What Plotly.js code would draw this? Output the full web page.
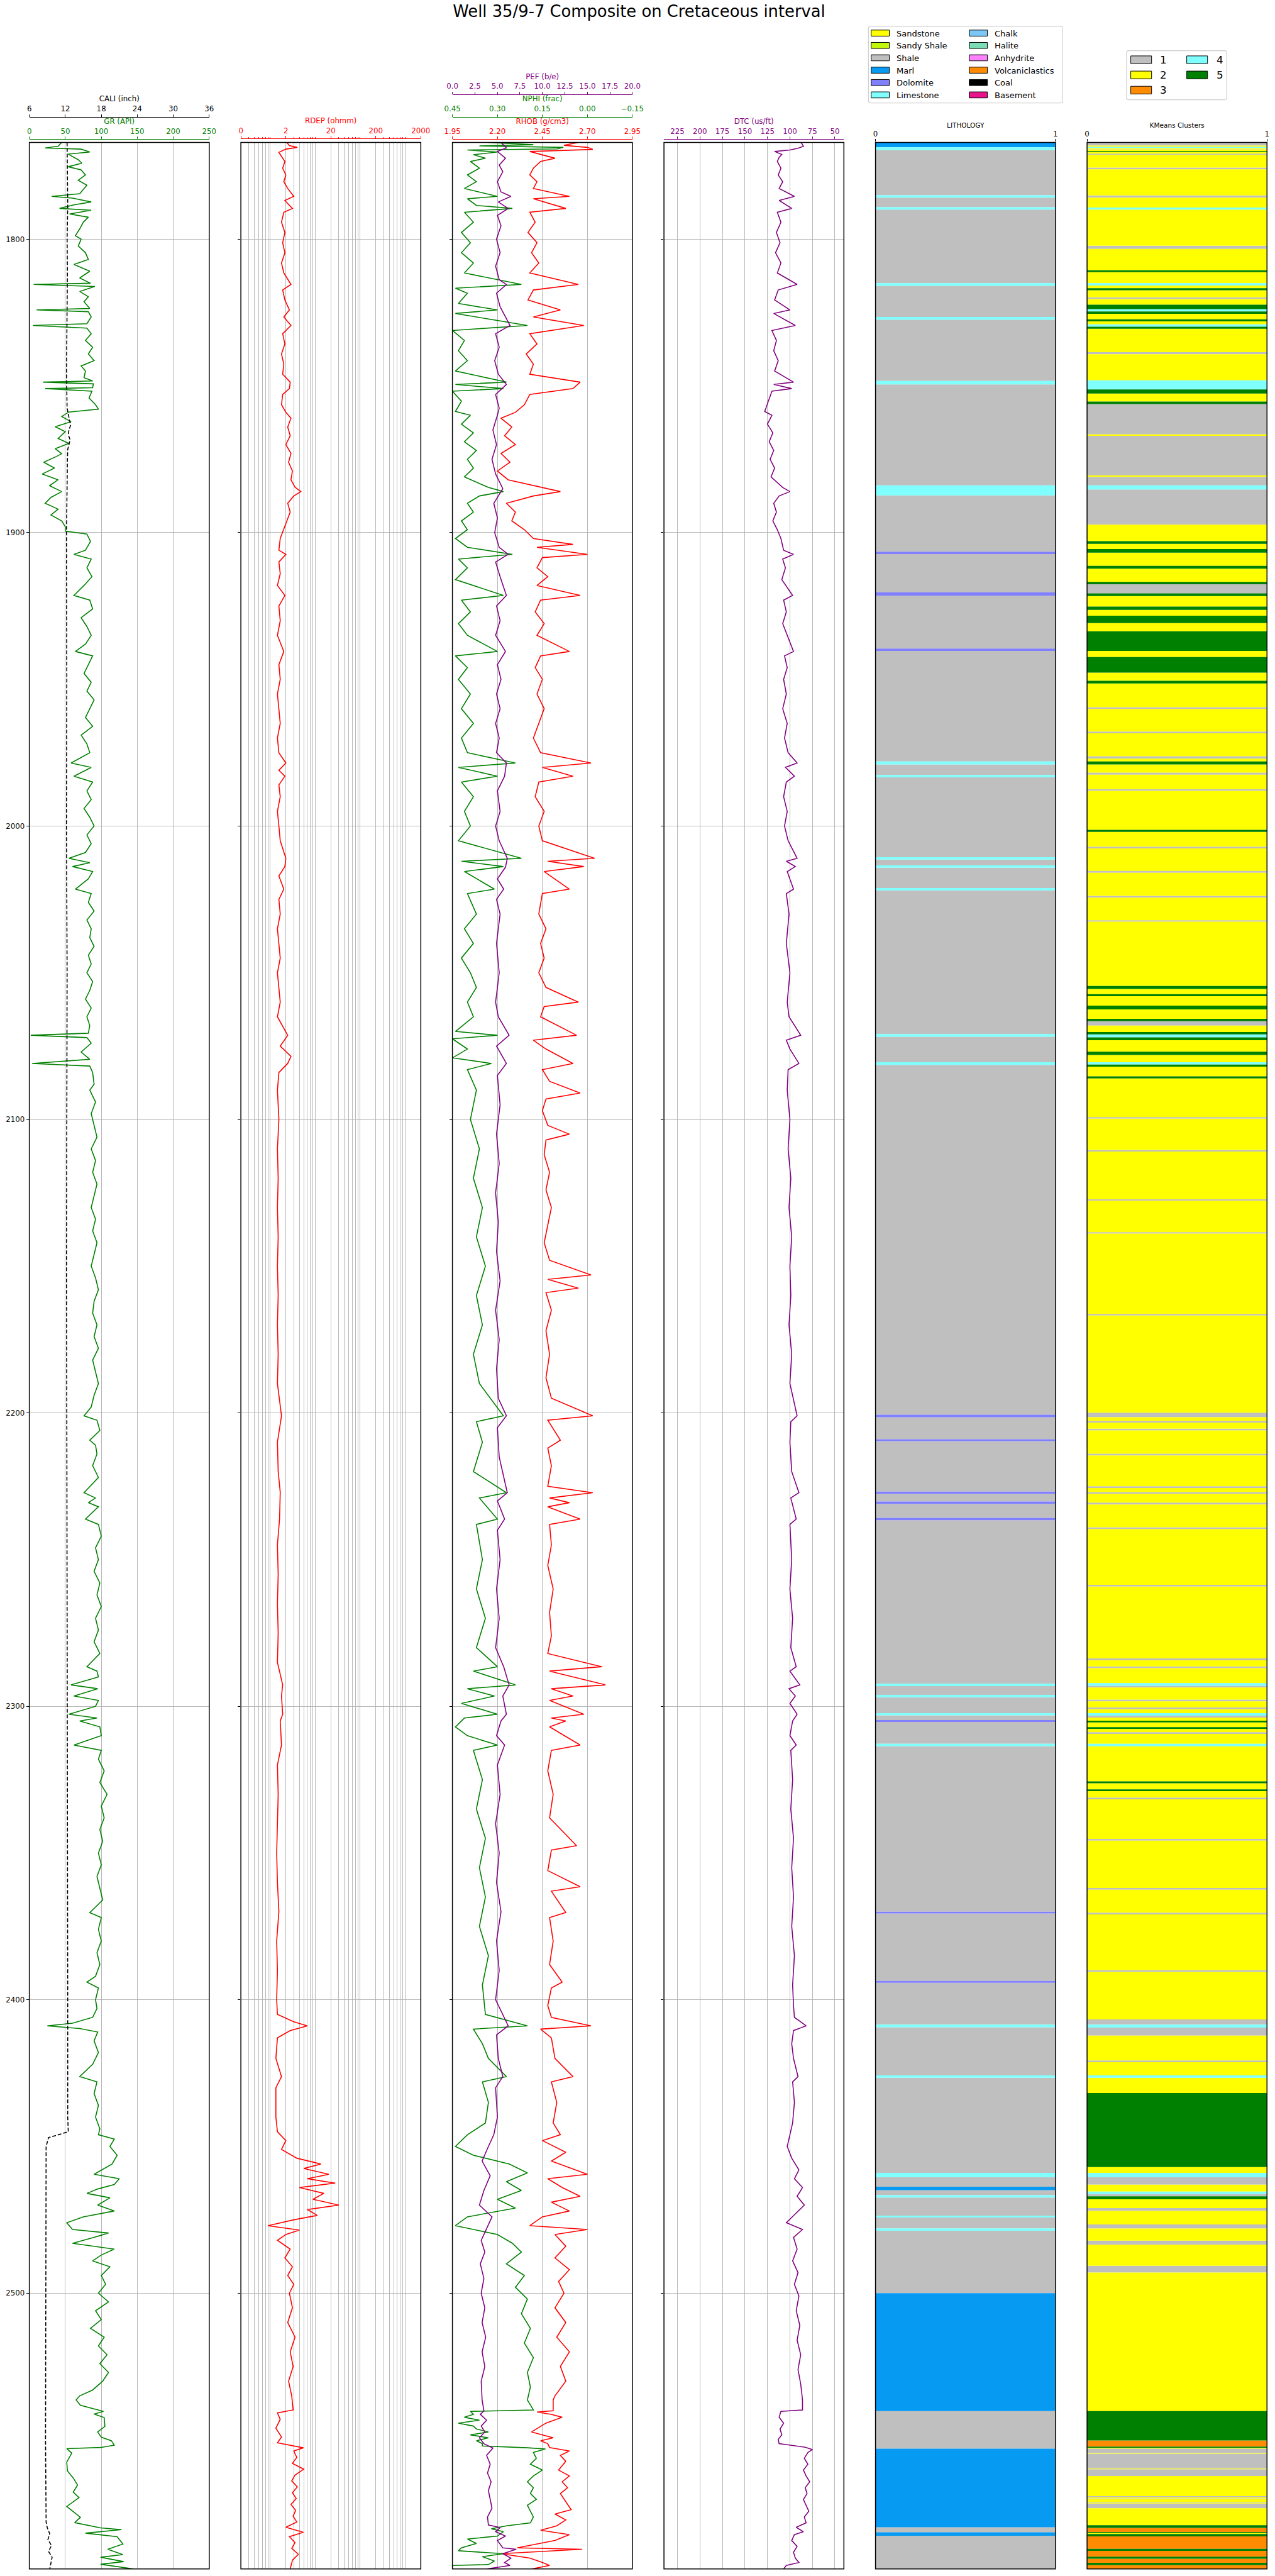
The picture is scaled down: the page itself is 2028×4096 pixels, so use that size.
<!DOCTYPE html>
<html>
<head>
<meta charset="utf-8">
<script src="https://cdn.plot.ly/plotly-3.0.1.min.js"></script>
<style>
html,body{margin:0;padding:0;background:#ffffff;}
#chart{width:2028px;height:4096px;}
</style>
</head>
<body>
<div id="chart"></div>
<script>
// ---------------- DATA ----------------
const DEPTH_TOP = 1767.0;
const DEPTH_BOTTOM = 2594.0;
const DEPTH_TICKS = [1800, 1900, 2000, 2100, 2200, 2300, 2400, 2500];

const GR_TICKS = [0, 50, 100, 150, 200, 250];
const CALI_TICKS = [6, 12, 18, 24, 30, 36];
const RDEP_TICKS = [0.2, 2, 20, 200, 2000];
const RDEP_TICKTEXT = ['0', '2', '20', '200', '2000'];
const RHOB_TICKS = [1.95, 2.20, 2.45, 2.70, 2.95];
const NPHI_TICKS = [0.45, 0.30, 0.15, 0.00, -0.15];
const PEF_TICKS = [0, 2.5, 5, 7.5, 10, 12.5, 15, 17.5, 20];
const DTC_TICKS = [225, 200, 175, 150, 125, 100, 75, 50];

// [depth (m), GR (API)]
const GR_CURVE = [
[1767.0,45],[1768.3,40],[1768.9,22],[1769.3,72],[1770.3,84],[1771.0,54],[1772.9,68],[1774.1,73],[1775.3,54],[1776.4,72],
[1778.1,78],[1779.9,68],[1781.6,80],[1783.3,74],[1784.5,70],[1785.4,31],[1786.0,60],[1787.3,86],[1788.3,62],[1789.5,42],
[1790.1,86],[1791.4,56],[1792.5,82],[1794.2,75],[1796.5,70],[1798.8,64],[1800.0,72],[1802.3,68],[1804.6,78],[1806.9,82],
[1808.6,62],[1810.9,84],[1813.2,70],[1815.0,85],[1815.4,6],[1816.1,91],[1817.8,70],[1819.6,82],[1821.3,76],[1823.6,84],
[1824.1,10],[1824.7,82],[1826.5,86],[1828.8,80],[1829.4,5],[1830.3,80],[1832.2,86],[1834.5,78],[1836.8,88],[1839.1,82],
[1841.4,90],[1843.2,72],[1844.9,78],[1847.2,76],[1848.3,88],[1848.7,19],[1849.3,89],[1850.6,88],[1850.9,22],[1851.8,87],
[1854.1,83],[1856.4,92],[1857.9,96],[1858.9,55],[1860.4,45],[1862.2,58],[1863.9,36],[1865.6,50],[1867.9,40],[1869.6,55],
[1871.4,36],[1873.1,45],[1874,38],[1876,20],[1878,35],[1880,18],[1882,40],[1884,28],[1886,45],[1888,30],
[1890,22],[1892,40],[1894,30],[1896,45],[1898,50],[1899.5,50],[1900.5,80],[1903,85],[1906,78],[1907.4,62],
[1909,86],[1912,80],[1915,87],[1918,76],[1921.4,62],[1923,84],[1926,88],[1929,72],[1932,80],[1935,86],
[1938,78],[1940.5,64],[1942,88],[1945,82],[1948,76],[1951,86],[1954,80],[1957,90],[1960,84],[1963,78],
[1966,88],[1969,72],[1972,80],[1975,84],[1978.5,58],[1980,86],[1983,62],[1985,88],[1988,80],[1991,86],
[1994,76],[1997,84],[2000,90],[2003,80],[2006,86],[2009,78],[2011,55],[2012.5,84],[2013.8,60],[2015.5,88],
[2018,82],[2021.5,64],[2023,86],[2026,82],[2029,90],[2032,80],[2035,86],[2038,84],[2041,90],[2044,82],
[2047,86],[2050,80],[2053,88],[2056,84],[2059,78],[2062,86],[2065,80],[2068,84],[2070.6,82],[2071.3,2],
[2072.1,80],[2074,86],[2077,72],[2079.5,84],[2080.9,4],[2081.8,84],[2084,88],[2088,90],[2090,84],[2094,92],
[2098,86],[2102,90],[2106,94],[2110,86],[2114,92],[2118,88],[2122,94],[2126,90],[2130,86],[2134,92],
[2138,88],[2142,94],[2146,90],[2150,86],[2154,92],[2158,96],[2162,90],[2166,88],[2170,94],[2174,90],
[2178,96],[2182,88],[2186,92],[2190,96],[2194,90],[2198,86],[2201,76],[2202.5,94],[2206,98],[2209.3,84],
[2211,92],[2214,94],[2218,88],[2222,96],[2227.2,76],[2229,92],[2230.6,82],[2232,96],[2236.2,78],[2238,96],
[2242,100],[2246,92],[2250,96],[2254,90],[2258,98],[2262,94],[2266,100],[2270,92],[2274,96],[2278,90],
[2282,98],[2286.5,80],[2288,94],[2290,96],[2292.7,58],[2294,95],[2296.5,62],[2298,96],[2300,92],[2302.7,55],
[2304,94],[2305,70],[2307,98],[2310,100],[2313.2,62],[2315,100],[2318,96],[2322,104],[2326,98],[2330,108],
[2334,100],[2338,104],[2342,98],[2346,102],[2350,96],[2354,100],[2358,94],[2362,98],[2366,102],[2370.3,84],
[2372,100],[2376,96],[2380,100],[2384,94],[2388,98],[2392,92],[2394,80],[2396,96],[2400,92],[2403,94],
[2406,88],[2408,60],[2408.9,25],[2409.8,70],[2411,95],[2414,90],[2418,96],[2422,88],[2426.2,70],[2428,94],
[2432,90],[2436,96],[2440,92],[2444,98],[2446,96],[2447.5,118],[2450,112],[2453,122],[2456,115],[2459.5,90],
[2461,125],[2463,118],[2464.5,95],[2466,80],[2467.5,112],[2470,95],[2472,118],[2474,75],[2476,52],[2478.3,60],
[2479.5,110],[2481,90],[2483,60],[2485,118],[2487,100],[2489,88],[2491,112],[2494,100],[2497,106],[2500,96],
[2503,110],[2506,92],[2509,100],[2512,85],[2515,104],[2518,96],[2521,108],[2524,98],[2527,110],[2530,102],
[2533,88],[2535,70],[2536.4,65],[2538.2,71],[2540.3,103],[2541.2,90],[2542.4,104],[2545.4,105],[2547.3,95],[2549.1,100],
[2550.3,114],[2551.8,118],[2552.6,99],[2553.0,52],[2554.5,59],[2557.6,52],[2560.6,53],[2563.0,61],[2565.4,67],[2567.8,61],
[2569.7,69],[2572.7,52],[2575.1,65],[2576.4,71],[2578.2,63],[2580.0,99],[2580.6,128],[2581.8,78],[2583.0,122],[2585.5,130],
[2587.3,109],[2589.1,130],[2590.0,99],[2591.5,131],[2592.4,99],[2594.0,145]
];

// [depth, CALI (inch)]
const CALI_CURVE = [
[1767.0,12.3],[1776.9,12.35],[1788.5,12.4],[1800,12.3],[1811.5,12.35],[1823.0,12.3],[1834.5,12.25],[1846.0,12.2],[1857.6,12.3],[1860,12.5],
[1861.7,12.7],[1863.3,12.9],[1865,12.6],[1866.7,12.5],[1868.3,12.8],[1870,12.6],[1871.7,12.4],[1875,12.35],[1883.3,12.3],[1891.7,12.3],
[1900,12.2],[1950,12.25],[2000,12.2],[2050,12.3],[2100,12.25],[2150,12.2],[2200,12.25],[2250,12.3],[2300,12.3],[2350,12.35],
[2400,12.4],[2440,12.4],[2445,12.5],[2447,9.2],[2450,8.8],[2500,8.75],[2550,8.7],[2578,8.8],[2580,9.0],[2582,9.4],
[2584,9.1],[2586,9.7],[2588,9.2],[2590,9.8],[2594.0,9.4]
];

// [depth, RDEP (ohmm)]
const RDEP_CURVE = [
[1767.0,2.1],[1768.1,2.4],[1768.7,3.6],[1769.3,2.0],[1770.4,1.4],[1771.8,1.6],[1773.5,1.9],[1775.8,1.7],[1778.1,2.0],[1780.4,1.8],
[1782.7,2.2],[1785.4,3.0],[1786.8,1.9],[1789.5,2.8],[1790.8,1.8],[1794.2,1.6],[1797.7,1.9],[1801.2,1.7],[1804.6,1.9],[1808.1,1.6],
[1811.5,1.8],[1815.4,2.6],[1817.3,1.7],[1820.7,1.9],[1824.1,2.4],[1826.5,1.8],[1829.4,2.6],[1832.2,1.7],[1835.7,1.9],[1839.1,1.6],
[1842.6,1.8],[1846.0,1.7],[1848.7,2.5],[1850.9,2.4],[1852.9,1.7],[1856.4,1.6],[1859,2.0],[1861,2.6],[1864,2.2],[1867,2.5],
[1870,2.0],[1873,2.6],[1876,2.3],[1879,2.8],[1882,2.6],[1884.5,3.2],[1886,4.3],[1887.5,3.0],[1890,2.2],[1893,2.5],
[1896,2.1],[1899,1.8],[1902,1.5],[1906,1.4],[1907.4,2.0],[1910,1.4],[1914,1.5],[1918,1.3],[1921.4,1.9],[1925,1.4],
[1930,1.5],[1935,1.3],[1940.5,1.8],[1945,1.4],[1950,1.5],[1955,1.3],[1960,1.4],[1965,1.5],[1970,1.3],[1975,1.4],
[1978.5,2.0],[1981,1.4],[1983,1.9],[1986,1.4],[1990,1.5],[1995,1.3],[2000,1.4],[2005,1.5],[2011,2.0],[2013.8,1.9],
[2017,1.4],[2021.5,1.8],[2025,1.4],[2030,1.5],[2035,1.3],[2040,1.4],[2045,1.5],[2050,1.3],[2055,1.4],[2060,1.5],
[2065,1.3],[2071.3,2.2],[2075,1.5],[2078.5,2.6],[2080.9,2.2],[2084,1.4],[2090,1.3],[2100,1.4],[2110,1.3],[2120,1.35],
[2130,1.3],[2140,1.35],[2150,1.3],[2160,1.35],[2170,1.3],[2180,1.35],[2190,1.3],[2201,1.6],[2210,1.3],[2220,1.35],
[2227,1.5],[2236,1.45],[2245,1.3],[2255,1.35],[2265,1.3],[2275,1.35],[2285,1.3],[2292.7,1.7],[2296.5,1.6],[2302.7,1.7],
[2305,1.5],[2313.2,1.6],[2320,1.3],[2330,1.35],[2340,1.3],[2350,1.25],[2360,1.3],[2370,1.4],[2380,1.25],[2390,1.3],
[2400,1.25],[2405,1.3],[2407.5,3.0],[2408.9,6.0],[2410.5,2.5],[2413,1.3],[2420,1.2],[2426.2,1.6],[2430,1.2],[2440,1.2],
[2445,1.3],[2448,2.0],[2451,1.6],[2454,3.5],[2456,12],[2457.5,5],[2459.5,18],[2461,6],[2462.5,25],[2464,4],
[2466,14],[2468,8],[2470,30],[2471.5,6],[2473.5,10],[2475,3],[2477,0.8],[2478.5,4],[2480,2],[2482,1.3],
[2485,2.5],[2488,1.9],[2491,2.8],[2494,2.2],[2497,3.0],[2500,2.4],[2505,2.8],[2510,2.2],[2515,3.2],[2520,2.5],
[2525,2.9],[2530,2.3],[2535,2.7],[2537,2.8],[2539.8,2.9],[2540.8,1.3],[2543,1.5],[2546,1.2],[2549,1.6],[2551,1.3],
[2552.7,4.9],[2553.8,3.0],[2556,3.5],[2558,2.8],[2560,5.0],[2562,3.2],[2564,2.7],[2566,3.6],[2568,2.8],[2570,3.4],
[2572,2.6],[2574,3.3],[2576,2.9],[2578,3.5],[2579.8,2.0],[2581.5,4.9],[2583,2.4],[2585,3.2],[2587,2.7],[2589,3.8],
[2591,2.8],[2594.0,2.5]
];

// [depth, RHOB (g/cm3)]
const RHOB_CURVE = [
[1767.0,2.65],[1768.0,2.57],[1768.7,2.70],[1769.4,2.73],[1770.1,2.38],[1771.2,2.45],[1772.4,2.52],[1773.5,2.44],[1775.8,2.40],[1778.1,2.38],
[1780.4,2.42],[1782.7,2.40],[1785.4,2.60],[1786.2,2.40],[1789.5,2.58],[1790.8,2.38],[1794.2,2.41],[1797.7,2.37],[1801.2,2.42],[1804.6,2.39],
[1808.1,2.43],[1811.5,2.38],[1815.4,2.65],[1817.3,2.40],[1820.7,2.37],[1824.1,2.55],[1826.5,2.40],[1829.4,2.68],[1832.2,2.38],[1835.7,2.42],
[1839.1,2.36],[1842.6,2.40],[1846.0,2.38],[1848.7,2.66],[1850.9,2.62],[1852.9,2.38],[1856.4,2.35],[1859,2.30],[1861,2.22],[1864,2.28],
[1867,2.24],[1870,2.30],[1873,2.22],[1876,2.27],[1879,2.20],[1882,2.26],[1884.6,2.45],[1886,2.55],[1887.5,2.40],[1890,2.25],
[1893,2.30],[1896,2.28],[1899,2.35],[1902,2.40],[1904,2.62],[1905,2.42],[1907.4,2.70],[1908.5,2.45],[1912,2.42],[1915,2.48],
[1918,2.42],[1921.4,2.66],[1923,2.44],[1927,2.41],[1931,2.46],[1935,2.42],[1940.5,2.60],[1942,2.44],[1946,2.41],[1950,2.45],
[1955,2.42],[1960,2.46],[1965,2.43],[1970,2.40],[1975,2.44],[1978.5,2.72],[1980,2.45],[1983,2.62],[1985,2.43],[1990,2.41],
[1995,2.46],[2000,2.43],[2005,2.45],[2011,2.74],[2012,2.48],[2013.8,2.68],[2015.5,2.46],[2021.5,2.60],[2023,2.45],[2030,2.43],
[2035,2.47],[2040,2.44],[2045,2.46],[2050,2.43],[2055,2.47],[2060,2.65],[2061.5,2.46],[2065,2.44],[2071.3,2.64],[2073,2.40],
[2076,2.47],[2080.9,2.62],[2083,2.45],[2087,2.49],[2091,2.66],[2093,2.47],[2097,2.45],[2102,2.48],[2105,2.60],[2107,2.47],
[2112,2.46],[2118,2.49],[2124,2.47],[2130,2.50],[2136,2.48],[2142,2.46],[2148,2.49],[2153,2.72],[2154.5,2.48],[2157.5,2.65],
[2159,2.47],[2165,2.50],[2172,2.47],[2180,2.49],[2188,2.47],[2195,2.50],[2201,2.73],[2202.5,2.48],[2209.3,2.55],[2212,2.48],
[2218,2.50],[2225,2.48],[2227.2,2.73],[2229,2.49],[2230.6,2.60],[2232,2.48],[2236.2,2.66],[2238,2.49],[2245,2.50],[2252,2.48],
[2260,2.51],[2268,2.49],[2276,2.50],[2282,2.48],[2286.5,2.78],[2288,2.49],[2292.7,2.80],[2294,2.50],[2296.5,2.62],[2298,2.49],
[2302.7,2.68],[2304,2.50],[2305,2.58],[2307,2.49],[2313.2,2.66],[2315,2.50],[2322,2.48],[2330,2.51],[2338,2.49],[2347.5,2.64],
[2349,2.50],[2356,2.48],[2361.5,2.66],[2363,2.50],[2370.3,2.58],[2372,2.49],[2380,2.51],[2388,2.49],[2394,2.56],[2396,2.50],
[2402,2.48],[2406,2.50],[2408.9,2.72],[2410,2.44],[2413,2.50],[2420,2.52],[2426.2,2.62],[2428,2.50],[2435,2.53],[2442,2.51],
[2446,2.55],[2448,2.45],[2452,2.58],[2455,2.50],[2459.5,2.70],[2461,2.48],[2464,2.56],[2467,2.66],[2469,2.50],[2472,2.60],
[2474,2.45],[2477,2.38],[2478.3,2.70],[2480,2.52],[2484,2.58],[2488,2.52],[2492,2.60],[2496,2.54],[2500,2.57],[2505,2.52],
[2510,2.58],[2515,2.53],[2520,2.60],[2525,2.55],[2530,2.58],[2535,2.52],[2536.4,2.51],[2540.1,2.51],[2540.5,2.42],[2541.3,2.50],
[2542.3,2.56],[2544.3,2.47],[2547.3,2.39],[2549.3,2.51],[2550.3,2.44],[2551.3,2.48],[2552.6,2.49],[2553.8,2.60],[2555.3,2.55],[2557.3,2.58],
[2560.3,2.54],[2562.3,2.60],[2564.3,2.56],[2566.3,2.59],[2568.3,2.55],[2573.8,2.61],[2575.3,2.52],[2577.3,2.58],[2579.3,2.53],[2580.8,2.44],
[2582.3,2.60],[2584.3,2.52],[2586.8,2.31],[2587.3,2.67],[2588.8,2.22],[2590.3,2.38],[2591.8,2.45],[2592.8,2.49],[2594.0,2.39]
];

// [depth, NPHI (frac)]
const NPHI_CURVE = [
[1767.0,0.33],[1767.8,0.18],[1768.2,0.36],[1768.7,0.08],[1769.2,0.10],[1769.6,0.40],[1770.3,0.30],[1771.2,0.38],[1772.4,0.34],[1773.5,0.39],
[1775.8,0.36],[1778.1,0.40],[1780.4,0.37],[1782.7,0.41],[1785.4,0.30],[1786.2,0.40],[1788.5,0.37],[1789.5,0.25],[1790.8,0.41],[1794.2,0.38],
[1797.7,0.42],[1801.2,0.39],[1804.6,0.42],[1808.1,0.38],[1811.5,0.41],[1815.4,0.22],[1816.7,0.44],[1818.4,0.40],[1821.9,0.43],[1824.1,0.30],
[1825.3,0.44],[1829.4,0.20],[1831.1,0.45],[1834.5,0.41],[1838.0,0.43],[1841.4,0.40],[1844.9,0.44],[1848.7,0.27],[1849.5,0.44],[1850.9,0.28],
[1851.8,0.45],[1855.2,0.42],[1858.7,0.44],[1860,0.39],[1863,0.42],[1866,0.38],[1869,0.41],[1872,0.37],[1875,0.40],[1878,0.38],
[1881,0.41],[1884.6,0.33],[1886,0.28],[1887.5,0.36],[1890,0.40],[1893,0.38],[1896,0.42],[1899,0.40],[1902,0.44],[1905,0.40],
[1907.4,0.25],[1909,0.43],[1912,0.40],[1916,0.44],[1921.4,0.28],[1923,0.42],[1927,0.39],[1931,0.43],[1935,0.40],[1940.5,0.30],
[1942,0.44],[1946,0.40],[1950,0.43],[1955,0.39],[1960,0.42],[1965,0.38],[1970,0.42],[1975,0.40],[1978.5,0.24],[1980,0.43],
[1983,0.30],[1985,0.42],[1990,0.38],[1995,0.41],[2000,0.39],[2005,0.43],[2011,0.22],[2012,0.42],[2013.8,0.28],[2015.5,0.41],
[2021.5,0.31],[2023,0.40],[2030,0.37],[2035,0.41],[2040,0.38],[2045,0.42],[2050,0.39],[2055,0.37],[2060,0.40],[2065,0.38],
[2070,0.44],[2071.3,0.30],[2072.5,0.45],[2076,0.40],[2079,0.45],[2080.9,0.32],[2083,0.40],[2090,0.37],[2100,0.39],[2110,0.36],
[2120,0.38],[2130,0.35],[2140,0.37],[2150,0.34],[2160,0.37],[2170,0.35],[2180,0.38],[2190,0.36],[2201,0.28],[2203,0.37],
[2210,0.35],[2220,0.38],[2227.2,0.27],[2229,0.36],[2236.2,0.30],[2238,0.37],[2250,0.35],[2260,0.37],[2270,0.34],[2280,0.37],
[2286.5,0.30],[2288,0.38],[2292.7,0.24],[2294,0.40],[2296.5,0.31],[2299,0.42],[2302.7,0.30],[2304,0.41],[2307,0.44],[2310,0.40],
[2313.2,0.30],[2315,0.38],[2325,0.35],[2335,0.37],[2345,0.34],[2355,0.36],[2365,0.34],[2375,0.36],[2385,0.33],[2395,0.35],
[2405,0.34],[2408.9,0.20],[2410,0.38],[2415,0.35],[2420,0.33],[2426.2,0.27],[2428,0.35],[2435,0.33],[2442,0.34],[2446,0.40],
[2450,0.44],[2453,0.38],[2456,0.26],[2459,0.20],[2462,0.27],[2465,0.22],[2468,0.30],[2471,0.24],[2474,0.40],[2477,0.44],
[2480,0.30],[2483,0.25],[2486,0.22],[2490,0.27],[2494,0.21],[2498,0.24],[2502,0.20],[2507,0.22],[2512,0.19],[2517,0.21],
[2522,0.18],[2527,0.20],[2532,0.19],[2536.4,0.20],[2539.8,0.18],[2540.3,0.39],[2541.3,0.38],[2542.3,0.41],[2543.3,0.36],[2544.3,0.43],
[2545.3,0.38],[2546.3,0.37],[2547.3,0.33],[2548.3,0.39],[2549.3,0.33],[2550.3,0.37],[2551.3,0.35],[2552.1,0.35],[2552.7,0.20],[2553.1,0.14],
[2554.3,0.18],[2556.3,0.17],[2558.3,0.19],[2560.3,0.15],[2562.3,0.18],[2564.3,0.20],[2566.3,0.18],[2568.3,0.19],[2570.3,0.17],[2572.3,0.20],
[2574.3,0.19],[2576.3,0.18],[2578.3,0.19],[2579.3,0.27],[2580.3,0.32],[2581.3,0.28],[2582.8,0.30],[2583.8,0.40],[2585.3,0.37],[2586.8,0.42],
[2587.8,0.43],[2588.8,0.28],[2589.8,0.35],[2591.3,0.31],[2592.5,0.33],[2592.8,0.45],[2594.0,0.45]
];

// [depth, PEF (b/e)]
const PEF_CURVE = [
[1767.0,5.4],[1768.9,6.0],[1770.1,5.0],[1772.4,5.9],[1774.7,5.2],[1777.0,5.6],[1780.4,5.0],[1783.9,5.4],[1785.4,6.5],[1787.3,5.1],
[1789.5,6.2],[1791.9,5.0],[1795.4,5.4],[1800,4.9],[1804.6,5.3],[1809.2,4.8],[1813.8,5.2],[1815.4,6.0],[1818.4,4.9],[1823.0,5.3],
[1829.4,6.4],[1832.2,4.8],[1836.8,5.2],[1841.4,4.7],[1846.0,5.1],[1849.5,6.0],[1852.9,4.8],[1857.6,5.2],[1860,5.0],[1865,4.5],
[1870,4.9],[1875,4.4],[1880,4.8],[1885,5.6],[1890,4.6],[1895,5.0],[1900,4.7],[1905,5.2],[1907.4,6.2],[1910,4.8],
[1915,5.3],[1921.4,6.0],[1925,4.9],[1930,5.3],[1935,4.8],[1940.5,5.9],[1945,5.0],[1950,5.4],[1955,4.9],[1960,5.3],
[1965,4.8],[1970,5.2],[1975,4.9],[1978.5,6.0],[1983,5.8],[1988,5.0],[1995,5.3],[2000,4.8],[2005,5.2],[2011,6.1],
[2014,5.9],[2018,5.0],[2021.5,5.7],[2025,4.9],[2030,5.3],[2040,4.9],[2050,5.2],[2060,4.8],[2065,5.1],[2071.3,6.3],
[2075,4.9],[2080.9,6.0],[2085,5.0],[2095,5.3],[2105,4.9],[2115,5.2],[2125,4.8],[2135,5.1],[2145,4.9],[2155,5.3],
[2165,4.8],[2175,5.2],[2185,4.9],[2195,5.1],[2201,6.0],[2205,5.0],[2215,5.2],[2227.2,6.1],[2230,5.0],[2236.2,5.8],
[2240,5.0],[2250,5.3],[2260,4.9],[2270,5.2],[2280,4.8],[2286.5,5.7],[2292.7,6.3],[2296.5,5.6],[2302.7,6.0],[2305,5.4],
[2310,4.9],[2313.2,5.8],[2320,5.0],[2330,5.3],[2340,4.8],[2350,5.2],[2360,4.9],[2370,5.4],[2380,4.9],[2390,5.2],
[2400,4.8],[2408.9,6.2],[2412,4.9],[2420,5.1],[2426.2,5.6],[2430,4.8],[2440,5.0],[2446,4.6],[2450,4.0],[2455,3.3],
[2460,4.2],[2465,3.5],[2470,3.0],[2474,4.4],[2478,3.8],[2482,3.2],[2486,3.6],[2490,3.1],[2495,3.5],[2500,3.2],
[2505,3.6],[2510,3.3],[2515,3.7],[2520,3.3],[2525,3.6],[2530,3.2],[2536.4,3.3],[2540.1,3.5],[2541.3,3.1],[2543.3,3.8],
[2545.3,3.2],[2547.3,3.6],[2549.3,3.0],[2551.3,3.5],[2552.8,4.5],[2555.3,3.8],[2558.3,4.2],[2561.3,3.9],[2564.3,4.3],[2567.3,4.0],
[2570.3,4.2],[2573.3,4.4],[2576.3,3.9],[2579.0,4.0],[2579.9,5.3],[2581.3,4.8],[2582.8,5.9],[2584.3,5.0],[2586.8,5.6],[2587.3,7.1],
[2588.8,5.6],[2590.3,6.5],[2591.8,5.8],[2592.8,6.4],[2594.0,3.8]
];

// [depth, DTC (us/ft)]
const DTC_CURVE = [
[1767.0,88],[1767.3,87],[1768.3,85],[1769.0,91],[1769.6,100],[1770.1,117],[1771.1,109],[1772.1,112],[1773.5,114],[1775.8,110],
[1778.1,113],[1780.4,108],[1782.7,112],[1785.4,95],[1786.8,112],[1789.5,98],[1790.8,114],[1794.2,110],[1797.7,115],[1801.2,111],
[1804.6,116],[1808.1,110],[1811.5,114],[1815.4,92],[1817.3,113],[1820.7,117],[1824.1,100],[1825.3,118],[1829.4,94],[1831.1,120],
[1834.5,115],[1838.0,118],[1841.4,113],[1844.9,117],[1848.7,96],[1849.5,118],[1850.9,98],[1851.8,120],[1855.2,124],[1858.7,128],
[1860,120],[1863,125],[1866,119],[1869,123],[1872,118],[1875,122],[1878,117],[1881,121],[1884.6,108],[1886,100],
[1887.5,112],[1890,118],[1893,115],[1896,119],[1899,114],[1902,110],[1906,107],[1907.4,96],[1909,108],[1912,105],
[1916,109],[1921.4,97],[1923,107],[1927,104],[1931,108],[1935,103],[1940.5,96],[1942,106],[1946,103],[1950,107],
[1955,104],[1960,108],[1965,103],[1970,106],[1975,102],[1978.5,92],[1980,105],[1983,95],[1985,104],[1990,107],
[1995,103],[2000,106],[2005,102],[2011,92],[2012,104],[2013.8,94],[2015.5,103],[2021.5,96],[2023,104],[2030,101],
[2040,104],[2050,100],[2060,103],[2065,101],[2071.3,88],[2073,104],[2076,100],[2080.9,90],[2083,102],[2090,103],
[2100,100],[2110,102],[2120,99],[2130,101],[2140,98],[2150,100],[2160,99],[2170,101],[2180,98],[2190,100],
[2201,92],[2203,99],[2210,100],[2220,98],[2227.2,90],[2229,99],[2236.2,93],[2238,100],[2250,98],[2260,100],
[2270,97],[2280,99],[2286.5,93],[2288,100],[2292.7,89],[2294,101],[2296.5,94],[2299,100],[2302.7,92],[2305,97],
[2310,100],[2313.2,93],[2315,99],[2325,97],[2335,99],[2345,96],[2355,98],[2365,96],[2375,98],[2385,95],
[2395,97],[2402,96],[2406,95],[2408.9,82],[2410.5,96],[2415,98],[2420,96],[2426.2,91],[2428,97],[2435,95],
[2442,97],[2446,100],[2450,103],[2454,98],[2458,90],[2461,95],[2464,86],[2467,92],[2470,84],[2473,94],
[2476,104],[2478.3,86],[2481,96],[2485,92],[2489,97],[2493,91],[2497,95],[2501,90],[2506,93],[2511,89],
[2516,92],[2521,88],[2526,91],[2531,88],[2536.4,86],[2539.8,86],[2540.3,110],[2542.3,112],[2544.3,107],[2546.3,111],
[2548.3,109],[2549.8,113],[2551.3,112],[2552.5,83],[2553.3,75],[2554.3,80],[2556.3,84],[2558.3,80],[2560.3,85],[2562.3,82],
[2564.3,78],[2566.3,83],[2568.3,81],[2570.3,85],[2572.3,82],[2574.3,79],[2576.3,84],[2578.3,82],[2579.8,93],[2581.3,85],
[2582.3,95],[2584.3,98],[2586.3,92],[2588.3,96],[2590.3,94],[2591.8,90],[2592.8,104],[2594.0,107]
];

// Lithology legend classes and colours (column-major order, as in the legend)
const LITH_NAMES = ['Sandstone','Sandy Shale','Shale','Marl','Dolomite','Limestone',
                    'Chalk','Halite','Anhydrite','Volcaniclastics','Coal','Basement'];
const LITH_COLORS = ['#ffff00','#c1f80a','#bfbfbf','#069af3','#7f7fff','#80ffff',
                     '#7bc8f6','#7bdcb5','#ff81ff','#ff8c00','#000000','#e8128a'];

// [interval top depth, lithology]; each interval runs to the next top (last to DEPTH_BOTTOM)
const LITHOLOGY_INTERVALS = [
[1767.0,'Marl'],[1768.7,'Limestone'],[1769.6,'Shale'],[1785.0,'Limestone'],[1785.8,'Shale'],[1789.1,'Limestone'],[1789.9,'Shale'],
[1815.0,'Limestone'],[1815.9,'Shale'],[1826.5,'Limestone'],[1827.4,'Shale'],[1848.3,'Limestone'],[1849.5,'Shale'],
[1883.9,'Limestone'],[1887.3,'Shale'],[1906.5,'Dolomite'],[1907.3,'Shale'],[1920.3,'Dolomite'],[1921.5,'Shale'],
[1939.5,'Dolomite'],[1940.3,'Shale'],[1978.0,'Limestone'],[1979.0,'Shale'],[1982.6,'Limestone'],[1983.4,'Shale'],
[2010.6,'Limestone'],[2011.4,'Shale'],[2013.4,'Limestone'],[2014.2,'Shale'],[2021.1,'Limestone'],[2021.9,'Shale'],
[2070.9,'Limestone'],[2071.8,'Shale'],[2080.5,'Limestone'],[2081.4,'Shale'],[2200.6,'Dolomite'],[2201.5,'Shale'],
[2209.0,'Dolomite'],[2209.6,'Shale'],[2226.8,'Dolomite'],[2227.6,'Shale'],[2230.2,'Dolomite'],[2231.0,'Shale'],
[2235.8,'Dolomite'],[2236.6,'Shale'],[2292.3,'Limestone'],[2293.1,'Shale'],[2296.1,'Limestone'],[2296.9,'Shale'],
[2302.3,'Limestone'],[2303.1,'Shale'],[2304.7,'Dolomite'],[2305.3,'Shale'],[2312.8,'Limestone'],[2313.6,'Shale'],
[2370.0,'Dolomite'],[2370.6,'Shale'],[2393.6,'Dolomite'],[2394.2,'Shale'],[2408.5,'Limestone'],[2409.4,'Shale'],
[2425.8,'Limestone'],[2426.6,'Shale'],[2459.0,'Limestone'],[2460.5,'Shale'],[2463.7,'Marl'],[2464.9,'Shale'],
[2466.6,'Limestone'],[2467.4,'Shale'],[2473.6,'Limestone'],[2474.2,'Shale'],[2477.9,'Limestone'],[2478.7,'Shale'],
[2500.0,'Marl'],[2540.2,'Shale'],[2553.0,'Marl'],[2579.8,'Shale'],[2581.5,'Marl'],[2582.7,'Shale']
];

// KMeans clusters and colours
const CLUSTER_IDS = [1, 2, 3, 4, 5];
const CLUSTER_COLORS = ['#bfbfbf', '#ffff00', '#ff8c00', '#80ffff', '#008000'];

// [interval top depth, cluster]
const KMEANS_INTERVALS = [
[1767.0,1],[1768.1,2],[1768.5,4],[1768.9,2],[1769.2,1],[1769.4,2],[1769.9,5],[1770.2,2],[1770.8,1],[1771.2,2],
[1775.6,1],[1776.2,2],[1785.1,1],[1785.8,2],[1789.2,4],[1789.9,2],[1802.2,1],[1803.3,2],[1810.6,5],[1811.2,2],
[1815.0,4],[1815.8,2],[1816.7,5],[1817.4,2],[1819.8,1],[1820.4,2],[1822.3,5],[1823.8,4],[1824.6,5],[1825.4,2],
[1827.3,5],[1828.0,2],[1829.0,4],[1829.8,5],[1830.5,2],[1838.5,1],[1839.2,2],[1848.1,4],[1851.2,5],[1852.6,2],
[1855.3,5],[1856.2,1],[1866.5,2],[1867.0,1],[1880.5,2],[1881.0,1],[1883.9,4],[1885.3,1],[1897.3,2],[1902.9,5],
[1903.8,2],[1905.6,5],[1906.8,2],[1911.3,5],[1912.3,2],[1916.8,5],[1917.6,1],[1920.7,5],[1921.6,2],[1925.2,5],
[1926.3,2],[1928.3,5],[1930.8,2],[1933.6,5],[1940.3,2],[1942.4,5],[1947.7,2],[1950.5,5],[1951.4,2],[1959.5,1],
[1960.1,2],[1967.8,1],[1968.4,2],[1976.2,1],[1977.0,2],[1978.0,5],[1979.0,2],[1981.8,1],[1982.5,2],[1987.4,1],
[1988.0,2],[2001.3,5],[2002.0,2],[2007.0,1],[2007.6,2],[2015.3,1],[2015.9,2],[2023.8,1],[2024.4,2],[2032.1,1],
[2032.6,2],[2054.5,5],[2055.5,2],[2057.3,5],[2058.0,2],[2061.2,5],[2062.5,2],[2065.7,5],[2066.5,1],[2068.0,2],
[2070.2,5],[2071.0,4],[2072.0,5],[2073.0,2],[2076.9,5],[2078.0,2],[2080.5,4],[2081.3,5],[2082.0,2],[2085.3,5],
[2086.0,2],[2099.2,1],[2099.7,2],[2110.4,1],[2110.9,2],[2127.2,1],[2127.7,2],[2138.4,1],[2138.9,2],[2166.3,1],
[2166.8,2],[2199.9,1],[2201.5,2],[2202.7,1],[2203.3,2],[2205.4,1],[2206.0,2],[2213.9,1],[2214.5,2],[2225.0,1],
[2225.6,2],[2227.0,1],[2227.6,2],[2230.6,1],[2231.2,2],[2239.0,1],[2239.6,2],[2258.6,1],[2259.2,2],[2283.7,1],
[2284.3,2],[2286.4,1],[2287.0,2],[2292.1,4],[2293.0,1],[2293.6,2],[2297.7,1],[2298.3,2],[2300.4,1],[2301.0,2],
[2302.3,4],[2303.2,1],[2303.8,2],[2304.9,5],[2305.5,2],[2307.1,5],[2307.7,2],[2308.8,1],[2309.4,2],[2312.8,4],
[2313.6,2],[2325.6,5],[2326.2,2],[2328.3,5],[2328.9,2],[2331.1,1],[2331.7,2],[2345.2,1],[2345.8,2],[2361.9,1],
[2362.5,2],[2370.3,1],[2370.9,2],[2389.9,1],[2390.5,2],[2406.7,1],[2408.5,4],[2409.5,1],[2412.2,2],[2420.7,1],
[2421.3,2],[2425.8,4],[2426.6,2],[2431.8,5],[2457.0,2],[2459.0,4],[2460.5,1],[2463.0,2],[2465.4,4],[2466.2,1],
[2467.0,5],[2468.0,2],[2471.0,1],[2472.0,2],[2476.6,1],[2478.0,2],[2482.1,1],[2483.5,2],[2490.7,1],[2493.0,2],
[2540.2,5],[2550.2,3],[2552.3,5],[2552.7,2],[2553.0,1],[2554.5,2],[2554.7,1],[2559.8,2],[2560.0,1],[2562.3,2],
[2569.2,1],[2569.6,2],[2569.9,1],[2570.2,2],[2571.2,1],[2571.5,2],[2571.7,1],[2573.3,2],[2579.1,5],[2580.0,3],
[2581.4,5],[2581.7,2],[2582.1,5],[2582.9,3],[2587.1,5],[2587.8,3],[2589.8,5],[2590.5,3],[2591.9,5],[2592.7,3]
];

// ---------------- LAYOUT HELPERS ----------------
const W = 2028, H = 4096, S = 0.848;           // page size and scale vs. 2390x4827 reference
const fy = v => 1 - v * S / H;                   // reference px (y) -> paper fraction
const fx = v => v * S / W;                       // reference px (x) -> paper fraction
const TRACK_LEFT = [55, 451.8, 848.6, 1245.4, 1642.2, 2039];
const TRACK_W = 337.5;
const dom = i => [fx(TRACK_LEFT[i]), fx(TRACK_LEFT[i] + TRACK_W)];
const Y_DOM = [fy(4817), fy(267)];
const GRID = '#b0b0b0';
const FONT = 'DejaVu Sans, sans-serif';
const FS = 11.8;

function hdr(color, title, extra) {
  return Object.assign({
    side: 'top', showline: true, linecolor: color, linewidth: 1,
    ticks: 'outside', ticklen: 4, tickwidth: 1, tickcolor: color,
    tickfont: {size: FS, color: color, family: FONT},
    title: {text: title, font: {size: FS, color: color, family: FONT}, standoff: 0},
    zeroline: false, showgrid: false, fixedrange: true, tickmode: 'array'
  }, extra);
}
function yax(anchor, labels, grid) {
  return {
    domain: Y_DOM, anchor: anchor, range: [DEPTH_BOTTOM, DEPTH_TOP],
    tickmode: 'array', tickvals: DEPTH_TICKS, showticklabels: labels,
    ticks: grid ? 'outside' : '', ticklen: 4, tickwidth: 1, tickcolor: 'black',
    tickfont: {size: FS, color: 'black', family: FONT},
    showgrid: grid, gridcolor: GRID, gridwidth: 0.9, zeroline: false, showline: false, fixedrange: true
  };
}

const rdepMinor = [];
[0.1, 1, 10, 100].forEach(b => { for (let m = 3; m <= 9; m++) rdepMinor.push(+(m * b).toPrecision(3)); });

// ---------------- TRACES ----------------
const col = (arr, i) => arr.map(p => p[i]);
function curve(data, xa, ya, color, dash) {
  return {type: 'scatter', mode: 'lines', x: col(data, 1), y: col(data, 0), xaxis: xa, yaxis: ya,
          line: {color: color, width: 1.6, dash: dash || 'solid'}, showlegend: false, hoverinfo: 'skip'};
}
const traces = [
  curve(GR_CURVE, 'x', 'y', 'green'),
  curve(CALI_CURVE, 'x2', 'y', 'black', '6px,3px'),
  curve(RDEP_CURVE, 'x3', 'y2', 'red'),
  curve(RHOB_CURVE, 'x4', 'y3', 'red'),
  curve(PEF_CURVE, 'x6', 'y3', 'purple'),
  curve(NPHI_CURVE, 'x5', 'y3', 'green'),
  curve(DTC_CURVE, 'x7', 'y4', 'purple')
];

function intervalBars(intervals, keys, colors, xa, ya) {
  const out = [];
  keys.forEach((k, ki) => {
    const ys = [], ws = [], xs = [];
    intervals.forEach((iv, j) => {
      if (iv[1] !== k) return;
      const top = iv[0];
      const base = j + 1 < intervals.length ? intervals[j + 1][0] : DEPTH_BOTTOM;
      ys.push((top + base) / 2); ws.push(base - top); xs.push(1);
    });
    if (ys.length) out.push({type: 'bar', orientation: 'h', x: xs, y: ys, width: ws, base: 0,
      xaxis: xa, yaxis: ya, marker: {color: colors[ki], line: {width: 0}},
      showlegend: false, hoverinfo: 'skip', name: String(k)});
  });
  return out;
}
traces.push(...intervalBars(LITHOLOGY_INTERVALS, LITH_NAMES, LITH_COLORS, 'x8', 'y5'));
traces.push(...intervalBars(KMEANS_INTERVALS, CLUSTER_IDS, CLUSTER_COLORS, 'x9', 'y6'));

// ---------------- LEGENDS (patch handles, as in the matplotlib figure) ----------------
const shapes = [];
const annotations = [];
function frame(xa, ya) {
  return {type: 'rect', xref: xa + ' domain', yref: ya + ' domain', x0: 0, x1: 1, y0: 0, y1: 1,
          line: {color: 'black', width: 1.5}, layer: 'above'};
}
function roundBox(x0, y0, x1, y1, r) {
  const X = v => v / W, Y = v => 1 - v / H;
  const p = `M ${X(x0 + r)} ${Y(y0)} L ${X(x1 - r)} ${Y(y0)} Q ${X(x1)} ${Y(y0)} ${X(x1)} ${Y(y0 + r)} ` +
            `L ${X(x1)} ${Y(y1 - r)} Q ${X(x1)} ${Y(y1)} ${X(x1 - r)} ${Y(y1)} L ${X(x0 + r)} ${Y(y1)} ` +
            `Q ${X(x0)} ${Y(y1)} ${X(x0)} ${Y(y1 - r)} L ${X(x0)} ${Y(y0 + r)} Q ${X(x0)} ${Y(y0)} ${X(x0 + r)} ${Y(y0)} Z`;
  return {type: 'path', xref: 'paper', yref: 'paper', path: p, line: {color: '#cccccc', width: 1.1},
          fillcolor: 'rgba(255,255,255,0.8)', layer: 'below'};
}
function patchLegend(box, names, colors, nrows, swatchX, textX, row0, rowStep, swW, swH, fontSize) {
  shapes.push(roundBox(box[0], box[1], box[2], box[3], 3));
  names.forEach((n, i) => {
    const c = Math.floor(i / nrows), r = i % nrows;
    const cy = row0 + r * rowStep;
    shapes.push({type: 'rect', xref: 'paper', yref: 'paper',
      x0: swatchX[c] / W, x1: (swatchX[c] + swW) / W, y0: 1 - (cy - swH / 2) / H, y1: 1 - (cy + swH / 2) / H,
      fillcolor: colors[i], line: {color: 'black', width: 1}, layer: 'above'});
    annotations.push({xref: 'paper', yref: 'paper', x: textX[c] / W, y: 1 - (cy + 0.5) / H, xanchor: 'left', yanchor: 'middle',
      text: String(n), showarrow: false, borderpad: 0, font: {family: FONT, size: fontSize, color: 'black'}});
  });
}
for (let i = 0; i < 6; i++) shapes.push(frame(...[['x','y'],['x3','y2'],['x4','y3'],['x7','y4'],['x8','y5'],['x9','y6']][i]));
patchLegend([1381.4, 41.6, 1690.1, 163.7], LITH_NAMES, LITH_COLORS, 6,
            [1385.6, 1541.7], [1424.8, 1580.9], 52.6, 19.66, 28.9, 9.6, 13);
patchLegend([1791.8, 80.6, 1951.2, 158.6], CLUSTER_IDS, CLUSTER_COLORS, 3,
            [1798.6, 1887.6], [1843.7, 1933.6], 95.0, 24.15, 33.1, 12.2, 16.6);

// ---------------- LAYOUT ----------------
const layout = {
  width: W, height: H, margin: {l: 0, r: 0, t: 0, b: 0, pad: 0},
  paper_bgcolor: 'white', plot_bgcolor: 'white',
  font: {family: FONT, size: FS, color: 'black'},
  barmode: 'overlay', hovermode: false, showlegend: false,
  title: {text: 'Well 35/9-7 Composite on Cretaceous interval', x: 1198 / 2390, xanchor: 'center',
          y: 1 - 18.3 / H, yanchor: 'middle', font: {family: FONT, size: 25.8, color: 'black'}},

  xaxis: hdr('green', 'GR (API)', {domain: dom(0), anchor: 'free', position: fy(261), range: [0, 250],
          tickvals: GR_TICKS, showgrid: true, gridcolor: GRID, gridwidth: 0.9}),
  xaxis2: hdr('black', 'CALI (inch)', {domain: dom(0), overlaying: 'x', anchor: 'free', position: fy(219),
          range: [6, 36], tickvals: CALI_TICKS}),
  xaxis3: hdr('red', 'RDEP (ohmm)', {domain: dom(1), anchor: 'free', position: fy(260), type: 'log',
          range: [Math.log10(0.2), Math.log10(2000)], tickvals: RDEP_TICKS, ticktext: RDEP_TICKTEXT,
          showgrid: true, gridcolor: GRID, gridwidth: 0.9,
          minor: {tickmode: 'array', tickvals: rdepMinor, ticks: 'outside', ticklen: 2.5, tickwidth: 1,
                  tickcolor: 'red', showgrid: true, gridcolor: GRID, gridwidth: 0.9}}),
  xaxis4: hdr('red', 'RHOB (g/cm3)', {domain: dom(2), anchor: 'free', position: fy(261), range: [1.95, 2.95],
          tickvals: RHOB_TICKS, tickformat: '.2f', showgrid: true, gridcolor: GRID, gridwidth: 0.9}),
  xaxis5: hdr('green', 'NPHI (frac)', {domain: dom(2), overlaying: 'x4', anchor: 'free', position: fy(219),
          range: [0.45, -0.15], tickvals: NPHI_TICKS, tickformat: '.2f'}),
  xaxis6: hdr('purple', 'PEF (b/e)', {domain: dom(2), overlaying: 'x4', anchor: 'free', position: fy(177),
          range: [0, 20], tickvals: PEF_TICKS, tickformat: '.1f'}),
  xaxis7: hdr('purple', 'DTC (us/ft)', {domain: dom(3), anchor: 'free', position: fy(261), range: [240, 40],
          tickvals: DTC_TICKS, showgrid: true, gridcolor: GRID, gridwidth: 0.9}),
  xaxis8: hdr('black', 'LITHOLOGY', {domain: dom(4), anchor: 'y5', range: [0, 1], tickvals: [0, 1], showline: false}),
  xaxis9: hdr('black', 'KMeans Clusters', {domain: dom(5), anchor: 'y6', range: [0, 1], tickvals: [0, 1], showline: false}),

  yaxis: yax('x', true, true),
  yaxis2: yax('x3', false, true),
  yaxis3: yax('x4', false, true),
  yaxis4: yax('x7', false, true),
  yaxis5: yax('x8', false, false),
  yaxis6: yax('x9', false, false),

  shapes: shapes,
  annotations: annotations
};
layout.xaxis8.title.font.size = 10.5;
layout.xaxis9.title.font.size = 10.5;

Plotly.newPlot('chart', traces, layout, {staticPlot: true, displayModeBar: false});
</script>
</body>
</html>
